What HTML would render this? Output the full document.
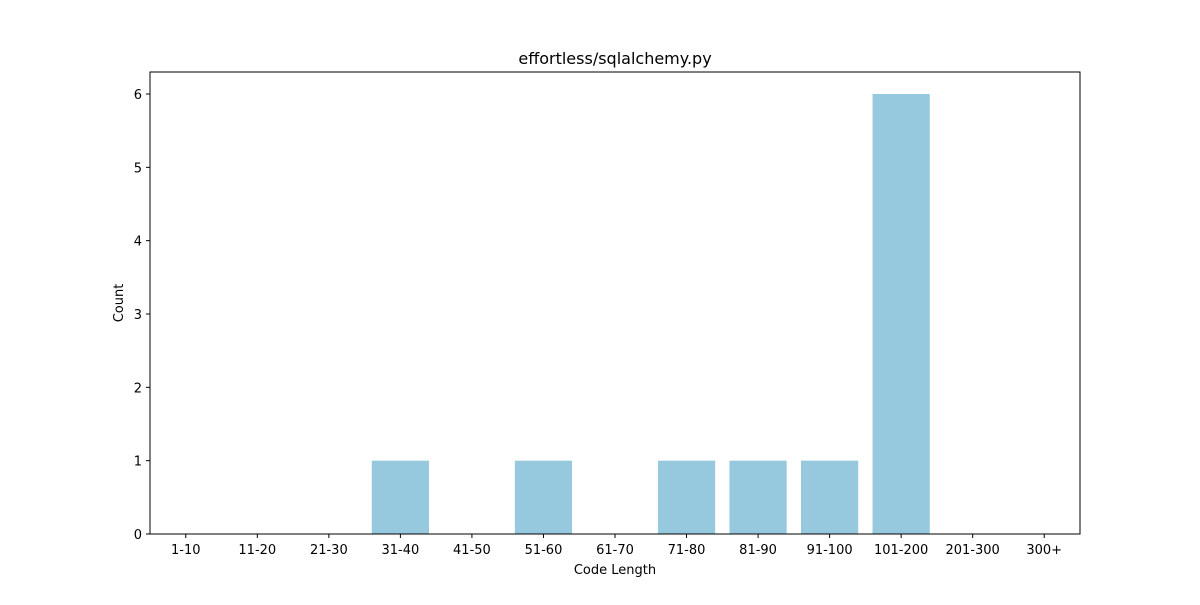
<!DOCTYPE html>
<html><head><meta charset="utf-8"><style>
body{margin:0;background:#fff;}
svg text{font-family:"DejaVu Sans","Liberation Sans",sans-serif;fill:#000;}
</style></head><body>
<svg id="chart" width="1200" height="600" xmlns="http://www.w3.org/2000/svg">
<rect width="1200" height="600" fill="#fff"/>
<text x="615" y="64" font-size="16" text-anchor="middle">effortless/sqlalchemy.py</text>
<g id="bars"></g>
<g id="xticks"></g>
<g id="yticks"></g>
<rect x="150" y="72" width="930" height="462" fill="none" stroke="#000" stroke-width="1"/>
<text x="615" y="574" font-size="13" text-anchor="middle">Code Length</text>
<text x="0" y="0" font-size="13" text-anchor="middle" transform="translate(123,303) rotate(-90)">Count</text>
</svg>
<script>
const categories=["1-10","11-20","21-30","31-40","41-50","51-60","61-70","71-80","81-90","91-100","101-200","201-300","300+"];
const counts=[0,0,0,1,0,1,0,1,1,1,6,0,0];
const yTicks=[0,1,2,3,4,5,6];
const L=150,R=1080,T=72,B=534,yMax=6.3;
const step=(R-L)/categories.length;
const xs=i=>L+step*(i+0.5);
const ys=v=>B-(v/yMax)*(B-T);
const NS="http://www.w3.org/2000/svg";
function mk(tag,attrs,parent){const e=document.createElementNS(NS,tag);for(const k in attrs)e.setAttribute(k,attrs[k]);parent.appendChild(e);return e;}
const bars=document.getElementById('bars'),xt=document.getElementById('xticks'),yt=document.getElementById('yticks');
categories.forEach((c,i)=>{
  const w=step*0.8;
  const r=mk('rect',{x:xs(i)-w/2,y:ys(counts[i]),width:w,height:B-ys(counts[i]),fill:'#96c9dd'},bars);
  
  
  const l=mk('line',{x1:xs(i),x2:xs(i),y1:B,y2:B+4,stroke:'#000'},xt);
  
  
  const t=mk('text',{x:xs(i),y:B+20,'font-size':13,'text-anchor':'middle'},xt);
  t.textContent=c;
  
  
});
yTicks.forEach(v=>{
  const l=mk('line',{x1:L-4,x2:L,y1:ys(v),y2:ys(v),stroke:'#000'},yt);
  
  
  const t=mk('text',{x:L-8,y:ys(v)+5,'font-size':13,'text-anchor':'end'},yt);
  t.textContent=v;
  
  
});
</script>
</body></html>
